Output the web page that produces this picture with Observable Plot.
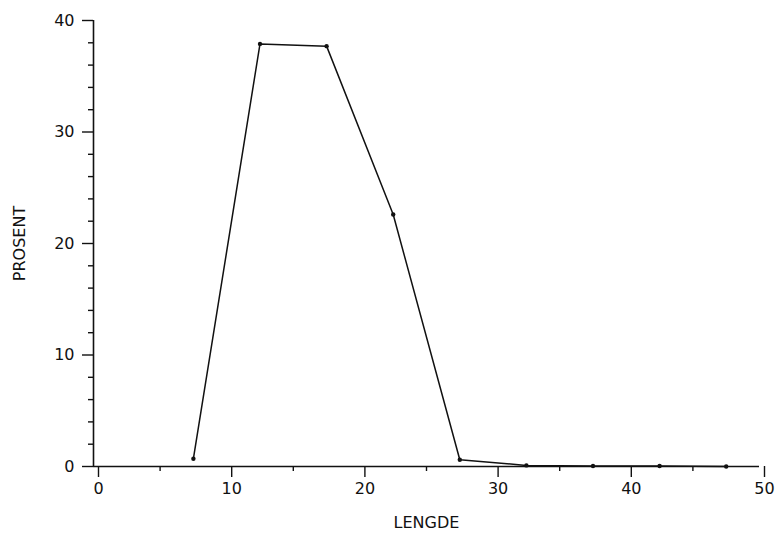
<!DOCTYPE html>
<html>
<head>
<meta charset="utf-8">
<script src="https://cdn.jsdelivr.net/npm/d3@7"></script>
<script src="https://cdn.jsdelivr.net/npm/@observablehq/plot@0.6"></script>
<style>
  html, body { margin: 0; padding: 0; background: #fff; }
  #chart svg { display: block; }
</style>
</head>
<body>
<div id="chart"></div>
<script>
const lengde = [7.5, 12.5, 17.5, 22.5, 27.5, 32.5, 37.5, 42.5, 47.5];
const prosent = [0.7, 37.9, 37.7, 22.6, 0.6, 0.1, 0.05, 0.05, 0.0];
const xMajor = [0, 10, 20, 30, 40, 50];
const xMinor = [5, 15, 25, 35, 45];
const yMajor = [0, 10, 20, 30, 40];
const yMinor = [2, 4, 6, 8, 12, 14, 16, 18, 22, 24, 26, 28, 32, 34, 36, 38];

const data = lengde.map((x, i) => ({x, y: prosent[i]}));
const font = "'DejaVu Sans', sans-serif";

const plot = Plot.plot({
  width: 784,
  height: 535,
  marginLeft: 93,
  marginRight: 25,
  marginTop: 20,
  marginBottom: 69,
  style: {fontFamily: font, fontSize: "16px", color: "#111", background: "#fff"},
  x: {domain: [0, 50]},
  y: {domain: [0, 40]},
  marks: [
    Plot.axisX(xMajor, {tickSize: 11, tickPadding: 5, dx: 5, fontSize: 16, stroke: "#111", strokeWidth: 1.4,
      label: "LENGDE", labelAnchor: "center", labelArrow: "none", labelOffset: 61}),
    Plot.axisX(xMinor, {tickSize: 5, text: null, label: null, stroke: "#111", strokeWidth: 1.4}),
    Plot.axisY(yMajor, {tickSize: 11, tickPadding: 8, fontSize: 16, stroke: "#111", strokeWidth: 1.4,
      label: "PROSENT", labelAnchor: "center", labelArrow: "none", labelOffset: 80}),
    Plot.axisY(yMinor, {tickSize: 5, text: null, label: null, stroke: "#111", strokeWidth: 1.4}),
    Plot.ruleX([0], {y1: 0, y2: 40, stroke: "#111", strokeWidth: 1.6}),
    Plot.ruleY([0], {x1: 0, x2: 50, stroke: "#111", strokeWidth: 1.6}),
    Plot.line(data, {x: "x", y: "y", stroke: "#111", strokeWidth: 1.5}),
    Plot.dot(data, {x: "x", y: "y", r: 2.2, fill: "#111", stroke: "none"})
  ]
});
document.getElementById("chart").appendChild(plot);
</script>
</body>
</html>
